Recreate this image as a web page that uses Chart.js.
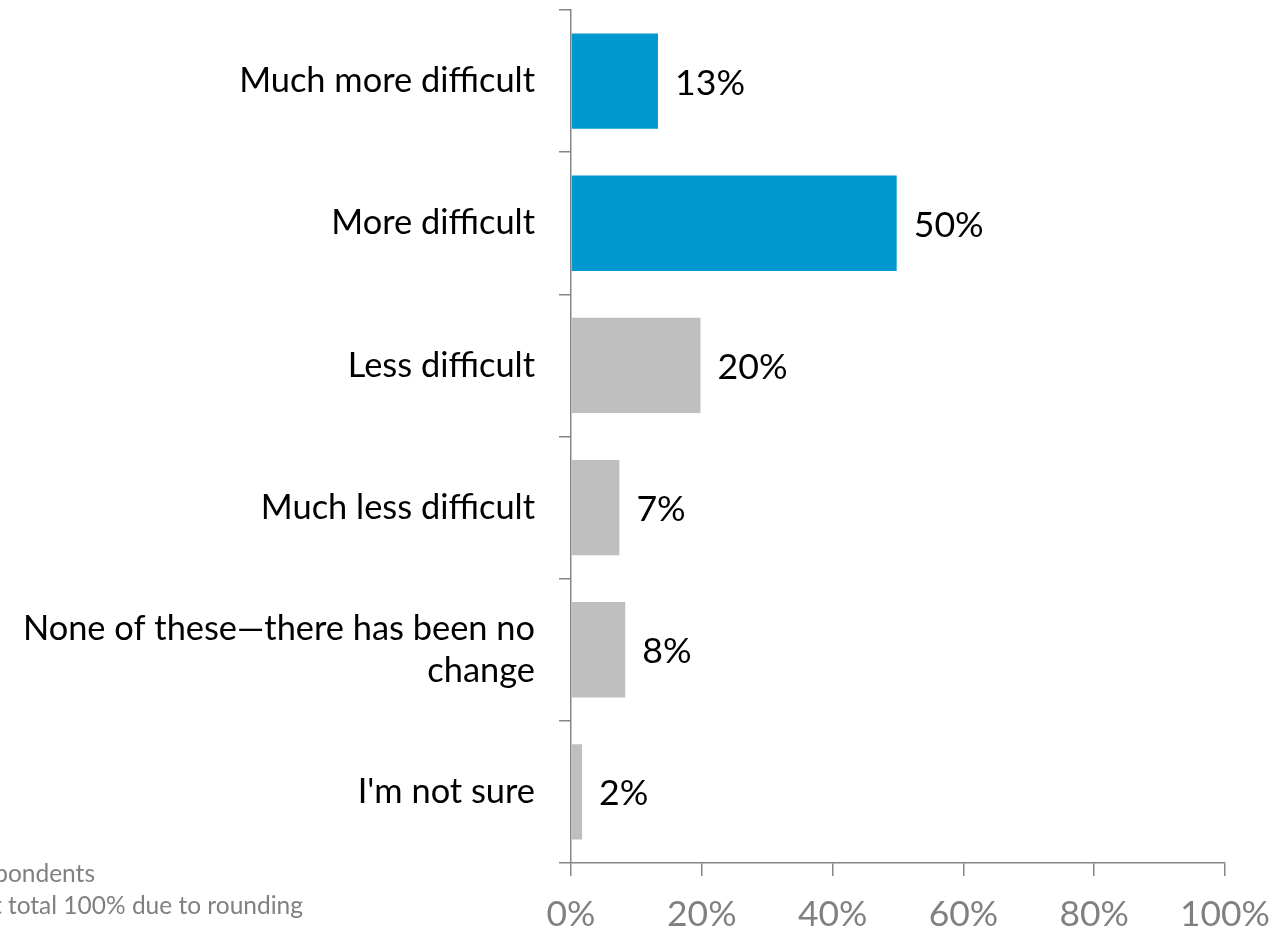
<!DOCTYPE html>
<html>
<head>
<meta charset="utf-8">
<script src="https://cdn.jsdelivr.net/npm/chart.js@4/dist/chart.umd.min.js"></script>
<style>
  html, body { margin: 0; padding: 0; background: #fff; overflow: hidden; }
  #wrap { position: relative; width: 1278px; height: 934px; overflow: hidden; }
  .note { position: absolute; white-space: nowrap; font-family: Lato, sans-serif; color: #808080; line-height: 1; }
</style>
</head>
<body>
<div id="wrap">
  <canvas id="chart" width="1278" height="934"></canvas>
  <div class="note" id="note1" style="right:1183px; top:861px;">Base: All respondents</div>
  <div class="note" id="note2" style="right:975px; top:893px;">Note: Percentages may not total 100% due to rounding</div>
</div>
<script>
// data
const categories = ['Much more difficult', 'More difficult', 'Less difficult', 'Much less difficult',
  ['None of these\u2014there has been no', 'change'], "I'm not sure"];
const values = [13.3, 49.8, 19.8, 7.4, 8.3, 1.7];
const valueLabels = ['13%', '50%', '20%', '7%', '8%', '2%'];
const xTicks = [0, 20, 40, 60, 80, 100];

const FONT = 'Lato, sans-serif';
const BLUE = '#0098cf';
const GREY = '#bfbfbf';
const AXIS = '#868686';
const barColors = values.map((v, i) => i < 2 ? BLUE : GREY);

// pick a font size so a sample string gets the width it has in the original
const measure = document.createElement('canvas').getContext('2d');
function fitSize(text, width) {
  measure.font = '100px ' + FONT;
  return Math.round(100 * width / measure.measureText(text).width * 10) / 10;
}
const catSize = fitSize('Much more difficult', 296);
const valSize = fitSize('13%', 70);
const tickSize = fitSize('100%', 90);
const noteSize = fitSize('total 100% due to rounding', 295);
document.getElementById('note1').style.fontSize = noteSize + 'px';
document.getElementById('note2').style.fontSize = noteSize + 'px';

// value labels at the end of each bar
const endLabels = {
  id: 'endLabels',
  afterDatasetsDraw(chart) {
    const c = chart.ctx;
    const meta = chart.getDatasetMeta(0);
    c.save();
    c.font = valSize + 'px ' + FONT;
    c.fillStyle = '#000';
    c.textAlign = 'left';
    c.textBaseline = 'middle';
    meta.data.forEach((bar, i) => {
      c.fillText(valueLabels[i], bar.x + 17, bar.y + 2);
    });
    c.restore();
  }
};

new Chart(document.getElementById('chart').getContext('2d'), {
  type: 'bar',
  data: {
    labels: categories,
    datasets: [{
      data: values,
      backgroundColor: barColors,
      borderWidth: 0,
      categoryPercentage: 1,
      barPercentage: 0.67
    }]
  },
  options: {
    indexAxis: 'y',
    responsive: false,
    animation: false,
    layout: { padding: { left: 0, right: 53, top: 10, bottom: 0 } },
    plugins: { legend: { display: false }, tooltip: { enabled: false } },
    scales: {
      x: {
        min: 0, max: 100,
        afterFit: (s) => { s.height = 71; s.paddingLeft = 0; s.paddingRight = 0; },
        afterBuildTicks: (s) => { s.ticks = xTicks.map(v => ({ value: v })); },
        border: { color: AXIS, width: 1.5 },
        grid: { drawOnChartArea: false, color: AXIS, tickLength: 13, lineWidth: 1.5 },
        ticks: {
          padding: 17,
          color: '#808080',
          maxRotation: 0,
          font: { family: FONT, size: tickSize, lineHeight: 1.2 },
          callback: (v) => v + '%'
        }
      },
      y: {
        afterFit: (s) => { s.width = 571; s.paddingTop = 0; s.paddingBottom = 0; },
        border: { color: AXIS, width: 1.5 },
        grid: { drawOnChartArea: false, color: AXIS, tickLength: 12, lineWidth: 1.5, offset: true },
        ticks: {
          padding: 24,
          color: '#000',
          font: { family: FONT, size: catSize, lineHeight: 1.22 }
        }
      }
    }
  },
  plugins: [endLabels]
});
</script>
</body>
</html>
